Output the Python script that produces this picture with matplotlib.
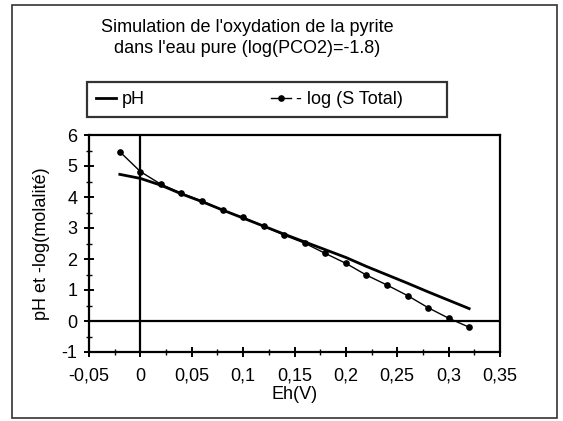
import numpy as np
import matplotlib
matplotlib.use("Agg")
import matplotlib.pyplot as plt
from matplotlib.ticker import MultipleLocator, FuncFormatter
from matplotlib.patches import Rectangle

plt.rcParams['font.family'] = ['Liberation Sans', 'DejaVu Sans']
plt.rcParams['axes.unicode_minus'] = False

# Données
eh = [-0.02, 0.0, 0.02, 0.04, 0.06, 0.08, 0.10, 0.12, 0.14,
      0.16, 0.18, 0.20, 0.22, 0.24, 0.26, 0.28, 0.30, 0.32]
ph = [4.73, 4.60, 4.38, 4.10, 3.85, 3.58, 3.32, 3.06, 2.80,
      2.55, 2.30, 2.05, 1.76, 1.49, 1.22, 0.94, 0.67, 0.40]
log_s = [5.46, 4.82, 4.41, 4.12, 3.87, 3.58, 3.34, 3.06, 2.77,
         2.51, 2.18, 1.86, 1.48, 1.16, 0.82, 0.43, 0.09, -0.20]

titre = "Simulation de l'oxydation de la pyrite\ndans l'eau pure (log(PCO2)=-1.8)"

fs = 13

fig = plt.figure(figsize=(5.63, 4.21), dpi=100)
ax = fig.add_axes([89/563, 1-352/421, (500-89)/563, (352-135)/421])

ax.plot(eh, ph, color='black', lw=2.0, label='pH')
ax.plot(eh, log_s, color='black', lw=1.0, marker='o', ms=3.8, label='- log (S Total)       ')

ax.axhline(0, color='black', lw=1.6)
ax.axvline(0, color='black', lw=1.6)

ax.set_xlim(-0.05, 0.35)
ax.set_ylim(-1, 6)
ax.xaxis.set_major_locator(MultipleLocator(0.05))
ax.xaxis.set_minor_locator(MultipleLocator(0.025))
ax.yaxis.set_major_locator(MultipleLocator(1))
ax.yaxis.set_minor_locator(MultipleLocator(0.5))
ax.xaxis.set_major_formatter(FuncFormatter(lambda v, p: ('%g' % round(v, 3)).replace('.', ',')))
ax.tick_params(which='major', direction='inout', length=7, width=1.4, labelsize=fs)
ax.tick_params(axis='x', which='major', pad=8)
ax.tick_params(axis='y', which='major', pad=5)
ax.tick_params(which='minor', direction='inout', length=4, width=1.0)
for s in ax.spines.values():
    s.set_linewidth(1.6)

ax.set_xlabel('Eh(V)', fontsize=fs, labelpad=1)
ax.set_ylabel('pH et -log(molalité)', fontsize=fs, labelpad=8)

fig.text(247/563, 1-38/421, titre, ha='center', va='center', fontsize=fs, linespacing=1.25)

leg = fig.legend(loc='upper left', ncol=2,
                 bbox_to_anchor=(87/563, 1-82/421),
                 fontsize=fs, frameon=True, fancybox=False, handlelength=1.1,
                 handletextpad=0.3, columnspacing=7.0, borderpad=0.5,
                 borderaxespad=0)
leg.get_frame().set_edgecolor('black')
leg.get_frame().set_linewidth(1.6)

# cadre autour de la figure
fig.patches.append(Rectangle((12/563, 3/421), (557-12)/563, (416-3)/421,
                             transform=fig.transFigure, fill=False,
                             edgecolor='#333333', lw=1.2))

fig.savefig('out.png', dpi=100)
